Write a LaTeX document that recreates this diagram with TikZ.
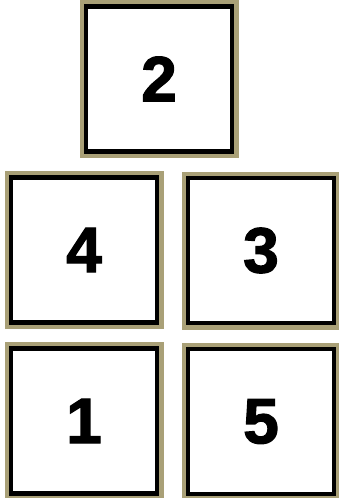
\documentclass[tikz,border=0pt]{standalone}
\usepackage{fontspec}
\setmainfont{Liberation Sans}[BoldFeatures={FakeBold=2}]
\usetikzlibrary{positioning}
\definecolor{khaki}{HTML}{A9A077}

\begin{document}
\begin{tikzpicture}[x=1pt,y=-1pt,
  tile/.style={rectangle,fill=white,draw=black,line width=4.5pt,
    minimum width=146pt,minimum height=145pt,inner sep=0pt,
    preaction={draw=khaki,line width=13pt},
    font=\fontsize{64}{64}\selectfont\bfseries}]
 \useasboundingbox(0,0)rectangle(338,498);
 \node[tile](two)at(159,79){2};
 \node[tile](four)at(84,250){4};
 \node[tile](three)at(261,250.5){3};
 \node[tile](one)at(84,421){1};
 \node[tile](five)at(261,421.5){5};
\end{tikzpicture}
\end{document}
